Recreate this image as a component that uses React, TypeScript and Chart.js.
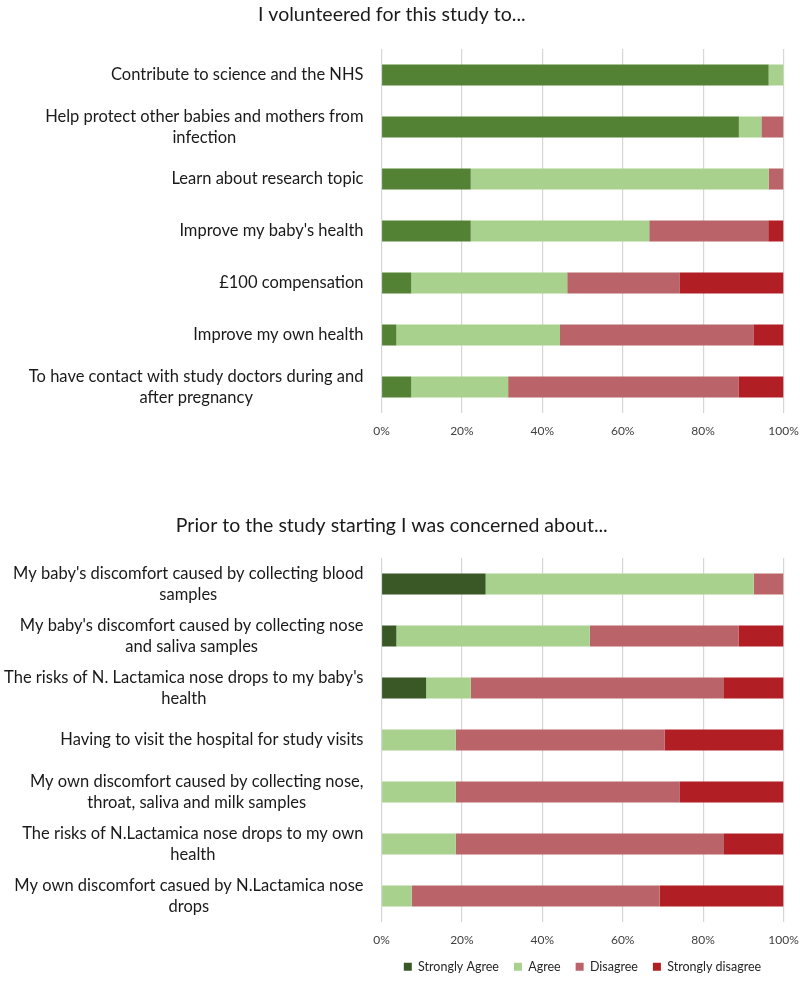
import React, { useEffect, useRef } from "react";
import { Chart, registerables } from "chart.js";

Chart.register(...registerables);

const FONT = "Lato, 'Open Sans', sans-serif";

const seriesNames = ["Strongly Agree", "Agree", "Disagree", "Strongly disagree"];

// Chart 1: I volunteered for this study to...
const volunteerTitle = "I volunteered for this study to...";
const volunteerCategories: (string | string[])[] = [
  "Contribute to science and the NHS",
  ["Help protect other babies and mothers from", "infection"],
  "Learn about research topic",
  "Improve my baby's health",
  "£100 compensation",
  "Improve my own health",
  ["To have contact with study doctors during and", "after pregnancy"],
];
const volunteerStronglyAgree = [96.3, 88.9, 22.2, 22.2, 7.4, 3.7, 7.4];
const volunteerAgree = [3.7, 5.6, 74.1, 44.4, 38.8, 40.7, 24.1];
const volunteerDisagree = [0, 5.5, 3.7, 29.6, 27.9, 48.1, 57.4];
const volunteerStronglyDisagree = [0, 0, 0, 3.8, 25.9, 7.5, 11.1];

// Chart 2: Prior to the study starting I was concerned about...
const concernTitle = "Prior to the study starting I was concerned about...";
const concernCategories: (string | string[])[] = [
  ["My baby's discomfort caused by collecting blood", "samples"],
  ["My baby's discomfort caused by collecting nose", "and saliva samples"],
  ["The risks of N. Lactamica nose drops to my baby's", "health"],
  "Having to visit the hospital for study visits",
  ["My own discomfort caused by collecting nose,", "throat, saliva and milk samples"],
  ["The risks of N.Lactamica nose drops to my own", "health"],
  ["My own discomfort casued by N.Lactamica nose", "drops"],
];
const concernStronglyAgree = [25.9, 3.7, 11.1, 0, 0, 0, 0];
const concernAgree = [66.7, 48.1, 11.1, 18.5, 18.5, 18.5, 7.5];
const concernDisagree = [7.4, 37.0, 63.0, 51.9, 55.6, 66.7, 61.7];
const concernStronglyDisagree = [0, 11.2, 14.8, 29.6, 25.9, 14.8, 30.8];

const xTicks = [0, 20, 40, 60, 80, 100];

const volunteerColors = ["#548235", "#A9D18E", "#BA646A", "#B11E24"];
const concernColors = ["#3A5726", "#A9D18E", "#BA646A", "#B11E24"];

const wrappedLabels = {
  id: "wrappedYLabels",
  afterDraw(chart: any) {
    const yScale = chart.scales.y;
    const ctx = chart.ctx;
    const right = chart.chartArea.left - 18;
    const lh = 21;
    ctx.save();
    ctx.font = `16.5px ${FONT}`;
    ctx.fillStyle = "#1a1a1a";
    ctx.textAlign = "center";
    ctx.textBaseline = "middle";
    (chart.data.labels as any[]).forEach((lab, i) => {
      const lines: string[] = Array.isArray(lab) ? lab : [lab];
      const w = Math.max(...lines.map((l) => ctx.measureText(l).width));
      const cx = right - w / 2;
      const cy = yScale.getPixelForTick(i);
      lines.forEach((l, j) => {
        ctx.fillText(l, cx, cy + (j - (lines.length - 1) / 2) * lh);
      });
    });
    ctx.restore();
  },
};

type PanelProps = {
  title: string;
  labels: (string | string[])[];
  values: number[][];
  colors: string[];
  height: number;
  top: number;
  titlePad: { top: number; bottom: number };
  showLegend: boolean;
  xAxisHeight: number;
};

function Panel(p: PanelProps) {
  const ref = useRef<HTMLCanvasElement | null>(null);
  useEffect(() => {
    if (!ref.current) return;
    const chart = new Chart(ref.current, {
      type: "bar",
      data: {
        labels: p.labels as any,
        datasets: seriesNames.map((name, k) => ({
          label: name,
          data: p.values[k],
          backgroundColor: p.colors[k],
          borderWidth: 0,
          barPercentage: 1,
          categoryPercentage: 0.4,
        })),
      },
      options: {
        indexAxis: "y",
        responsive: false,
        maintainAspectRatio: false,
        animation: false,
        layout: { padding: { left: 0, right: 16.5, top: 0, bottom: 0 } },
        scales: {
          x: {
            stacked: true,
            min: 0,
            max: 100,
            afterBuildTicks: (s: any) => {
              s.ticks = xTicks.map((v) => ({ value: v }));
            },
            ticks: {
              callback: (v: any) => v + "%",
              color: "#404040",
              font: { family: FONT, size: 12 },
              padding: 11,
              maxRotation: 0,
            },
            grid: { color: "#d6d6d6", lineWidth: 1.2, drawTicks: false },
            border: { display: false },
            afterFit: (s: any) => {
              s.height = p.xAxisHeight;
              s.paddingLeft = 0;
              s.paddingRight = 0;
            },
          },
          y: {
            stacked: true,
            ticks: { display: false },
            grid: { display: false },
            border: { display: false },
            afterFit: (s: any) => {
              s.width = 381.5;
            },
          },
        },
        plugins: {
          title: {
            display: true,
            text: p.title,
            color: "#1a1a1a",
            font: { family: FONT, size: 19.5, weight: "normal", lineHeight: 1.2 },
            padding: p.titlePad,
          },
          legend: {
            display: p.showLegend,
            position: "bottom",
            fullSize: false,
            labels: {
              boxWidth: 8,
              boxHeight: 8,
              padding: 15,
              color: "#262626",
              font: { family: FONT, size: 12.5 },
            },
          },
          tooltip: { enabled: false },
        },
      },
      plugins: [wrappedLabels],
    } as any);
    return () => chart.destroy();
  }, []);
  return (
    <canvas
      ref={ref}
      width={800}
      height={p.height}
      style={{ position: "absolute", left: 0, top: p.top, width: 800, height: p.height }}
    />
  );
}

export default function App() {
  return (
    <div style={{ position: "absolute", left: 0, top: 0, width: 800, height: 987, background: "#fff" }}>
      <Panel
        title={volunteerTitle}
        labels={volunteerCategories}
        values={[volunteerStronglyAgree, volunteerAgree, volunteerDisagree, volunteerStronglyDisagree]}
        colors={volunteerColors}
        height={443}
        top={0}
        titlePad={{ top: 3.3, bottom: 22.3 }}
        showLegend={false}
        xAxisHeight={30}
      />
      <Panel
        title={concernTitle}
        labels={concernCategories}
        values={[concernStronglyAgree, concernAgree, concernDisagree, concernStronglyDisagree]}
        colors={concernColors}
        height={483}
        top={500}
        titlePad={{ top: 14.3, bottom: 20.3 }}
        showLegend={true}
        xAxisHeight={23.5}
      />
    </div>
  );
}
